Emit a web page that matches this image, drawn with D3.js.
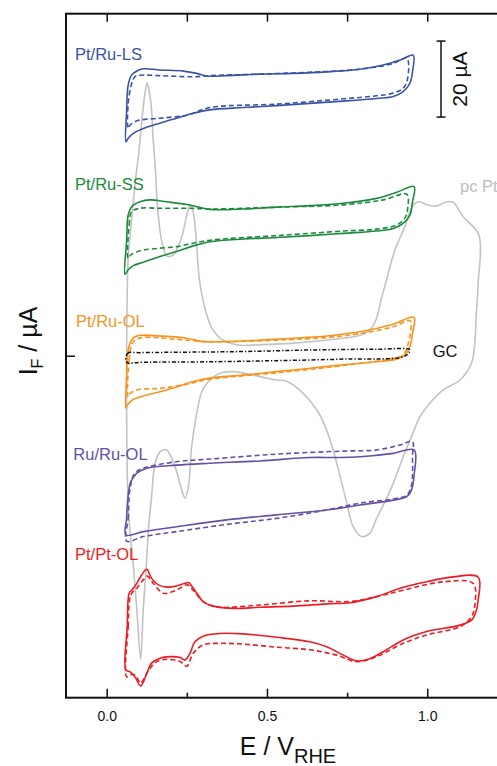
<!DOCTYPE html>
<html>
<head>
<meta charset="utf-8">
<script src="https://cdn.jsdelivr.net/npm/d3@7"></script>
<style>
    body { margin: 0; background: #fff; }
    svg { display: block; font-family: "Liberation Sans", Arial, sans-serif; }
</style>
</head>
<body>
<script>
// E in V vs RHE, I in uA (curves are stacked with their offsets as in the figure)
var ptRuLsSolid = [[0.060,56.3],[0.062,64.2],[0.067,71.2],[0.078,73.9],[0.094,74.9],[0.114,75.5],[0.166,75.2],[0.239,74.9],[0.281,74.3],[0.312,73.6],[0.374,73.7],[0.478,74.1],[0.582,74.3],[0.686,74.7],[0.790,75.4],[0.863,76.5],[0.915,77.8],[0.956,79.1],
    [0.954,74.7],[0.946,71.7],[0.925,69.5],[0.894,68.2],[0.842,67.7],[0.738,67.0],[0.634,66.4],[0.530,65.8],[0.426,65.3],[0.322,64.7],[0.270,63.8],[0.218,62.5],[0.166,61.2],[0.114,59.8],[0.083,58.5],[0.067,57.2]];
var ptRuLsDashed = [[0.067,59.8],[0.070,68.6],[0.088,73.4],[0.104,73.8],[0.166,73.7],[0.270,73.4],[0.322,73.7],[0.478,74.1],[0.634,74.6],[0.790,75.4],[0.894,76.9],[0.936,78.3],
    [0.939,73.0],[0.925,70.4],[0.894,69.1],[0.842,68.4],[0.738,67.6],[0.530,66.2],[0.322,65.3],[0.250,63.3],[0.166,62.5],[0.094,61.8],[0.073,60.7]];

var ptRuSsSolid = [[0.057,21.4],[0.062,30.0],[0.067,37.0],[0.078,39.2],[0.104,40.5],[0.135,41.0],[0.187,40.5],[0.250,39.8],[0.281,39.2],[0.322,38.5],[0.426,38.6],[0.530,39.1],[0.634,39.5],[0.738,40.1],[0.842,41.4],[0.905,43.0],[0.959,44.5],
    [0.954,40.5],[0.946,37.0],[0.925,34.8],[0.894,33.5],[0.842,32.8],[0.738,32.2],[0.634,31.6],[0.530,31.1],[0.426,30.7],[0.322,30.0],[0.270,28.9],[0.218,27.4],[0.166,26.1],[0.114,24.6],[0.083,23.7],[0.067,22.6]];
var ptRuSsDashed = [[0.067,25.6],[0.070,34.4],[0.078,37.9],[0.104,38.8],[0.166,38.8],[0.260,38.8],[0.322,38.6],[0.530,39.1],[0.738,39.7],[0.863,41.0],[0.936,42.5],
    [0.939,38.8],[0.930,36.2],[0.905,34.4],[0.842,33.3],[0.738,32.8],[0.530,31.6],[0.322,30.4],[0.270,29.6],[0.218,28.7],[0.166,28.3],[0.104,27.6],[0.075,26.5]];

var ptRuOlSolid = [[0.060,-13.8],[0.062,-5.5],[0.067,1.5],[0.075,3.7],[0.088,5.0],[0.114,5.4],[0.166,5.2],[0.250,4.6],[0.301,3.7],[0.374,3.7],[0.478,4.1],[0.582,4.6],[0.686,5.2],[0.790,6.3],[0.894,8.3],[0.959,10.1],
    [0.954,5.9],[0.946,2.4],[0.930,0.2],[0.905,-0.9],[0.842,-1.6],[0.738,-2.4],[0.634,-3.3],[0.530,-4.2],[0.426,-5.1],[0.322,-5.9],[0.270,-6.8],[0.218,-8.2],[0.166,-9.5],[0.114,-10.6],[0.083,-11.5],[0.067,-12.7]];
var ptRuOlDashed = [[0.067,-10.8],[0.070,-1.1],[0.083,3.7],[0.114,4.8],[0.218,4.3],[0.322,3.7],[0.530,4.1],[0.738,5.2],[0.894,7.6],[0.946,9.2],
    [0.941,3.3],[0.925,0.2],[0.894,-0.7],[0.738,-2.6],[0.530,-4.5],[0.322,-6.2],[0.239,-7.7],[0.166,-8.6],[0.094,-9.0],[0.073,-9.9]];

// glassy carbon blank
var gcLoop = [[0.062,-1.7],[0.065,0.6],[0.104,0.8],[0.218,0.9],[0.426,1.1],[0.634,1.5],[0.842,1.7],[0.946,1.6],
    [0.943,0.8],[0.925,-0.3],[0.738,-0.9],[0.530,-1.3],[0.322,-1.6],[0.114,-1.7]];

var ruRuOlSolid = [[0.060,-47.2],[0.062,-42.8],[0.067,-36.7],[0.075,-33.2],[0.094,-30.9],[0.125,-29.6],[0.218,-28.8],[0.322,-28.3],[0.478,-27.7],[0.634,-26.8],[0.717,-26.8],[0.790,-26.6],[0.894,-25.7],[0.959,-24.8],
    [0.959,-31.4],[0.951,-35.3],[0.936,-37.1],[0.894,-38.0],[0.790,-39.3],[0.686,-40.6],[0.530,-41.9],[0.374,-43.2],[0.218,-45.0],[0.114,-46.3]];
var ruRuOlDashed = [[0.062,-48.8],[0.067,-42.8],[0.073,-34.9],[0.088,-30.9],[0.114,-29.6],[0.218,-27.9],[0.322,-27.2],[0.530,-25.9],[0.738,-25.1],[0.842,-24.8],[0.915,-23.5],[0.954,-22.6],
    [0.954,-26.1],[0.951,-34.0],[0.936,-36.7],[0.894,-37.7],[0.790,-38.8],[0.686,-40.6],[0.530,-42.8],[0.374,-44.4],[0.218,-46.3],[0.114,-47.6]];

var ptPtOlSolid = [[0.060,-82.7],[0.064,-71.3],[0.070,-62.5],[0.078,-61.7],[0.094,-59.9],[0.109,-57.7],[0.125,-56.2],[0.140,-58.6],[0.161,-60.3],[0.187,-60.9],[0.218,-60.6],[0.244,-59.9],[0.255,-59.7],[0.265,-60.6],[0.281,-62.5],[0.301,-64.7],[0.333,-65.9],[0.395,-66.5],[0.478,-66.2],[0.582,-65.9],[0.686,-65.3],[0.759,-65.0],[0.842,-63.4],[0.915,-61.2],[0.998,-59.5],[1.081,-58.2],[1.159,-58.3],
    [1.159,-64.3],[1.152,-67.4],[1.138,-69.6],[1.102,-70.9],[0.998,-72.6],[0.925,-74.8],[0.863,-77.9],[0.816,-79.9],[0.780,-80.3],[0.738,-78.8],[0.686,-76.6],[0.634,-75.3],[0.530,-74.1],[0.426,-73.2],[0.353,-73.1],[0.301,-73.8],[0.275,-75.3],[0.260,-78.3],[0.244,-80.1],[0.229,-79.4],[0.197,-79.2],[0.166,-79.6],[0.140,-80.9],[0.125,-83.6],[0.106,-86.9],[0.088,-84.5],[0.073,-83.2]];
var ptPtOlDashed = [[0.062,-84.5],[0.067,-71.3],[0.075,-63.0],[0.094,-61.2],[0.114,-59.0],[0.127,-58.0],[0.145,-59.9],[0.177,-62.5],[0.218,-61.7],[0.251,-60.3],[0.270,-61.7],[0.301,-64.7],[0.343,-66.1],[0.478,-65.6],[0.634,-64.5],[0.759,-64.7],[0.842,-63.4],[0.925,-61.7],[1.050,-59.5],[1.143,-59.9],
    [1.149,-65.2],[1.138,-68.7],[1.102,-71.3],[0.998,-73.5],[0.925,-75.7],[0.842,-79.2],[0.780,-80.5],[0.717,-78.8],[0.634,-77.4],[0.530,-76.7],[0.426,-75.9],[0.353,-75.7],[0.301,-76.1],[0.270,-78.3],[0.250,-81.7],[0.229,-80.5],[0.187,-79.9],[0.156,-80.5],[0.135,-82.3],[0.114,-85.3],[0.106,-86.2],[0.088,-84.0],[0.073,-84.0]];

// polycrystalline Pt reference (grey, drawn behind)
var pcPt = [[0.106,-79.8],[0.094,-66.9],[0.083,-55.1],[0.074,-47.2],[0.067,-39.3],[0.063,-24.8],[0.062,-6.4],[0.063,9.4],[0.067,25.7],[0.076,34.4],[0.088,44.9],[0.101,54.1],[0.113,64.7],[0.121,69.9],[0.126,71.8],[0.132,69.9],[0.140,64.7],[0.144,58.1],[0.152,48.9],[0.158,39.7],[0.168,31.8],[0.177,28.3],[0.187,26.2],[0.207,26.5],[0.222,28.6],[0.235,31.5],[0.250,37.0],[0.260,39.7],[0.270,37.6],[0.279,31.0],[0.286,22.6],[0.294,17.3],[0.307,12.3],[0.328,7.3],[0.359,4.3],[0.410,2.8],[0.478,2.9],[0.582,3.3],[0.738,4.6],[0.790,5.4],[0.821,6.8],[0.840,9.4],[0.856,14.7],[0.877,21.2],[0.899,27.8],[0.930,33.9],[0.956,39.7],[0.977,40.5],[0.998,39.7],[1.029,39.4],[1.061,40.5],[1.081,40.4],[1.112,36.6],[1.161,31.8],
    [1.159,19.1],[1.152,9.4],[1.149,4.1],[1.138,-2.0],[1.102,-6.4],[1.050,-9.0],[1.008,-12.5],[0.977,-16.1],[0.951,-21.3],[0.925,-26.6],[0.894,-33.6],[0.863,-39.3],[0.840,-43.2],[0.821,-46.7],[0.795,-47.6],[0.769,-45.0],[0.749,-38.8],[0.728,-31.7],[0.697,-22.2],[0.665,-15.6],[0.613,-9.9],[0.561,-6.7],[0.530,-6.4],[0.478,-5.5],[0.395,-4.2],[0.353,-4.6],[0.312,-7.3],[0.296,-9.6],[0.281,-15.2],[0.265,-23.9],[0.255,-34.5],[0.244,-37.5],[0.234,-35.3],[0.213,-29.2],[0.187,-24.8],[0.166,-25.3],[0.151,-28.3],[0.140,-37.1],[0.130,-45.9],[0.124,-54.6],[0.114,-66.9]];

var xMajorTicks = [0, 0.5, 1.0];
var xMinorTicks = [0.25, 0.75];
var xTickLabels = ["0.0", "0.5", "1.0"];
var yTicks = [0];
var scaleBar = [62.8, 82.8]; // 20 uA

window.onload = (event) => {
    setChart();
};

function setChart() {
    var width = 497,
        height = 766;

    var svg = d3.select("body")
        .append("svg")
        .attr("width", width)
        .attr("height", height)
        .attr("viewBox", "0 0 " + width + " " + height);

    var x = d3.scaleLinear()
        .domain([-0.127, 1.227])
        .range([66, 500]);

    var y = d3.scaleLinear()
        .domain([-90, 90])
        .range([697.7, 13.7]);

    var loop = d3.line()
        .x(function(d) { return x(d[0]); })
        .y(function(d) { return y(d[1]); })
        .curve(d3.curveCatmullRomClosed.alpha(0.5));

    var dash = "5,3";

    var curves = [
        { data: pcPt, color: "#c3c3c3", dash: null, w: 1.6 },
        { data: ptRuLsDashed, color: "#3a53a4", dash: dash, w: 1.6 },
        { data: ptRuLsSolid, color: "#3a53a4", dash: null, w: 1.6 },
        { data: ptRuSsDashed, color: "#1b8a3e", dash: dash, w: 1.6 },
        { data: ptRuSsSolid, color: "#1b8a3e", dash: null, w: 1.6 },
        { data: ptRuOlDashed, color: "#f7941d", dash: dash, w: 1.6 },
        { data: ptRuOlSolid, color: "#f7941d", dash: null, w: 1.6 },
        { data: ruRuOlDashed, color: "#6650a5", dash: dash, w: 1.6 },
        { data: ruRuOlSolid, color: "#6650a5", dash: null, w: 1.6 },
        { data: ptPtOlDashed, color: "#ed1c24", dash: dash, w: 1.6 },
        { data: ptPtOlSolid, color: "#ed1c24", dash: null, w: 1.6 },
        { data: gcLoop, color: "#111", dash: "4,2,1.3,2", w: 1.5 }
    ];

    svg.selectAll(".cv")
        .data(curves)
        .enter()
        .append("path")
        .attr("class", "cv")
        .attr("d", function(d) { return loop(d.data); })
        .attr("fill", "none")
        .attr("stroke", function(d) { return d.color; })
        .attr("stroke-width", function(d) { return d.w; })
        .attr("stroke-dasharray", function(d) { return d.dash; });

    // frame
    svg.append("rect")
        .attr("x", 66)
        .attr("y", 13.7)
        .attr("width", 440)
        .attr("height", 684)
        .attr("fill", "none")
        .attr("stroke", "#111")
        .attr("stroke-width", 2);

    // inward ticks
    var bottom = svg.append("g")
        .attr("transform", "translate(0," + y.range()[0] + ")")
        .call(d3.axisBottom(x)
            .tickValues(xMajorTicks)
            .tickFormat(function(d, i) { return xTickLabels[i]; })
            .tickSize(-9)
            .tickSizeOuter(0)
            .tickPadding(13.5));

    svg.append("g")
        .attr("transform", "translate(0," + y.range()[0] + ")")
        .call(d3.axisBottom(x)
            .tickValues(xMinorTicks)
            .tickFormat("")
            .tickSize(-5)
            .tickSizeOuter(0));

    svg.append("g")
        .attr("transform", "translate(0," + y.range()[1] + ")")
        .call(d3.axisTop(x)
            .tickValues(xMajorTicks.concat(xMinorTicks))
            .tickFormat("")
            .tickSize(-8)
            .tickSizeOuter(0));

    svg.append("g")
        .attr("transform", "translate(" + x.range()[0] + ",0)")
        .call(d3.axisLeft(y)
            .tickValues(yTicks)
            .tickFormat("")
            .tickSize(-9)
            .tickSizeOuter(0));

    svg.selectAll(".domain").remove();
    svg.selectAll(".tick line")
        .attr("stroke", "#111")
        .attr("stroke-width", 1.5);

    bottom.selectAll("text")
        .attr("fill", "#111")
        .style("font-size", "14px")
        .style("font-family", "Liberation Sans, Arial, sans-serif");

    // axis titles
    var xTitle = svg.append("text")
        .attr("x", 288)
        .attr("y", 754.5)
        .attr("text-anchor", "middle")
        .style("font-size", "25px")
        .attr("fill", "#111");
    xTitle.append("tspan").text("E / V");
    xTitle.append("tspan")
        .attr("dy", 8)
        .style("font-size", "20px")
        .text("RHE");

    var yTitle = svg.append("text")
        .attr("transform", "translate(37,341) rotate(-90)")
        .attr("text-anchor", "middle")
        .style("font-size", "25px")
        .attr("fill", "#111");
    yTitle.append("tspan").text("I");
    yTitle.append("tspan")
        .attr("dy", 6)
        .style("font-size", "16px")
        .text("F");
    yTitle.append("tspan")
        .attr("dy", -6)
        .text(" / \u00b5A");

    // curve labels
    var labels = [
        { text: "Pt/Ru-LS", x: 75, y: 59.5, color: "#3a53a4" },
        { text: "Pt/Ru-SS", x: 75, y: 189.5, color: "#1b8a3e" },
        { text: "Pt/Ru-OL", x: 76, y: 326.5, color: "#f7941d" },
        { text: "Ru/Ru-OL", x: 73.3, y: 459.5, color: "#6650a5" },
        { text: "Pt/Pt-OL", x: 75, y: 560, color: "#ed1c24" },
        { text: "GC", x: 432.7, y: 356.7, color: "#111" },
        { text: "pc Pt", x: 460, y: 192, color: "#bdbdbd" }
    ];

    svg.selectAll(".label")
        .data(labels)
        .enter()
        .append("text")
        .attr("class", "label")
        .attr("x", function(d) { return d.x; })
        .attr("y", function(d) { return d.y; })
        .attr("fill", function(d) { return d.color; })
        .style("font-size", "16.5px")
        .text(function(d) { return d.text; });

    // 20 uA scale bar
    var barX = x(1.043);
    svg.append("line")
        .attr("x1", barX)
        .attr("x2", barX)
        .attr("y1", y(scaleBar[0]))
        .attr("y2", y(scaleBar[1]))
        .attr("stroke", "#111")
        .attr("stroke-width", 1.5);
    svg.selectAll(".cap")
        .data(scaleBar)
        .enter()
        .append("line")
        .attr("class", "cap")
        .attr("x1", barX - 4.5)
        .attr("x2", barX + 4.5)
        .attr("y1", function(d) { return y(d); })
        .attr("y2", function(d) { return y(d); })
        .attr("stroke", "#111")
        .attr("stroke-width", 1.5);
    svg.append("text")
        .attr("transform", "translate(467," + y((scaleBar[0] + scaleBar[1]) / 2) + ") rotate(-90)")
        .attr("text-anchor", "middle")
        .style("font-size", "21px")
        .attr("fill", "#111")
        .text("20 \u00b5A");
}
</script>
</body>
</html>
